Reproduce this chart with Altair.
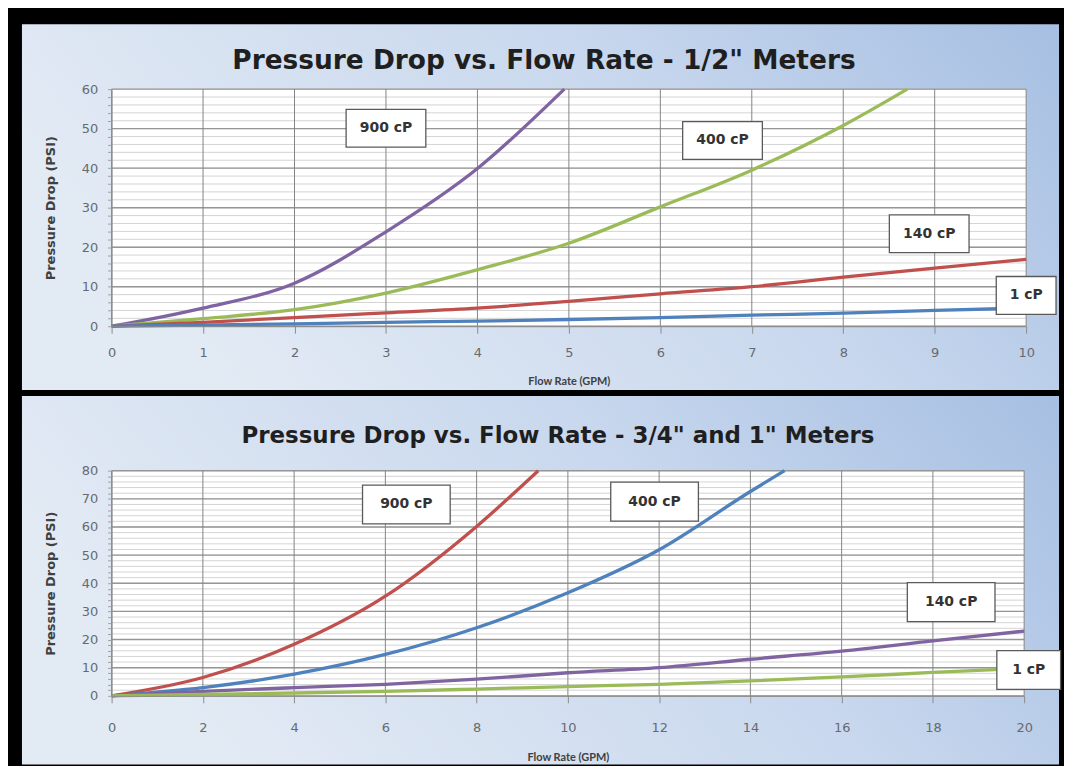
import altair as alt
import pandas as pd

# ---------------- data ----------------
# Top panel: 1/2" meters
top_900_x = [0, 1, 2, 3, 4, 4.95]
top_900_y = [0, 4.6, 10.9, 23.9, 39.9, 60]
top_400_x = [0, 1, 2, 3, 4, 5, 6, 7, 8, 8.7]
top_400_y = [0, 1.9, 4.2, 8.4, 14.3, 21, 30.2, 39.5, 50.8, 60]
top_140_x = [0, 1, 2, 3, 4, 5, 6, 7, 8, 9, 10]
top_140_y = [0, 1.0, 2.2, 3.4, 4.6, 6.3, 8.2, 10, 12.4, 14.7, 16.9]
top_1_x = [0, 1, 2, 3, 4, 5, 6, 7, 8, 9, 10]
top_1_y = [0, 0.3, 0.6, 1.0, 1.3, 1.7, 2.2, 2.8, 3.3, 4.0, 4.6]

# Bottom panel: 3/4" and 1" meters
bot_900_x = [0, 2, 4, 6, 8, 9.35]
bot_900_y = [0, 6.5, 18.3, 35.4, 60.2, 80]
bot_400_x = [0, 2, 4, 6, 8, 10, 12, 14, 14.75]
bot_400_y = [0, 2.9, 7.7, 14.7, 24.2, 36.6, 51.9, 72.6, 80]
bot_140_x = [0, 2, 4, 6, 8, 10, 12, 14, 16, 18, 20]
bot_140_y = [0, 1.6, 2.9, 4.1, 5.9, 8.2, 10, 13, 15.9, 19.5, 23]
bot_1_x = [0, 2, 4, 6, 8, 10, 12, 14, 16, 18, 20]
bot_1_y = [0, 0.5, 1.0, 1.6, 2.4, 3.3, 4.1, 5.3, 6.7, 8.3, 9.8]

series_names = ["900 cP", "400 cP", "140 cP", "1 cP"]
top_colors = ["#8064a2", "#9bbb59", "#c0504d", "#4f81bd"]
bot_colors = ["#c0504d", "#4f81bd", "#8064a2", "#9bbb59"]

top_label_x = [3.0, 6.68, 8.94, 10.0]
top_label_y = [50.1, 47.0, 23.4, 7.8]
bot_label_x = [6.46, 11.9, 18.4, 20.1]
bot_label_y = [68.0, 69.0, 33.3, 9.2]

top_x_ticks = list(range(0, 11, 1))
top_y_major = list(range(0, 61, 10))
top_y_minor = list(range(0, 61, 2))
bot_x_ticks = list(range(0, 21, 2))
bot_y_major = list(range(0, 81, 10))
bot_y_minor = list(range(0, 81, 2))

top_title = 'Pressure Drop  vs. Flow Rate - 1/2" Meters'
bot_title = 'Pressure Drop vs. Flow Rate - 3/4" and 1" Meters'
x_title = "Flow Rate (GPM)"
y_title = "Pressure Drop (PSI)"

WIDE = "DejaVu Sans"
NARROW = "Lato"


def series_df(xs, ys, key):
    rows = []
    for name, xx, yy in zip(series_names, xs, ys):
        for i, (a, b) in enumerate(zip(xx, yy)):
            rows.append({"x": a, "y": b, key: name, "order": i})
    return pd.DataFrame(rows)


def panel(key, xs, ys, colors, lab_x, lab_y, x_ticks, y_major, y_minor,
          xmax, ymax, W, H, title, title_size, title_dx, title_dy, ext,
          lab_pad, title_pad, box_w, box_h, small_w, small_h):
    df = series_df(xs, ys, key)
    labels = pd.DataFrame({"x": lab_x, "y": lab_y, "label": series_names})

    x_enc = alt.X("x:Q", scale=alt.Scale(domain=[0, xmax], nice=False, zero=True),
                  axis=alt.Axis(values=x_ticks, grid=False, title=x_title,
                                domainColor="#8c8c8c", tickColor="#8c8c8c",
                                tickSize=7, labelColor="#666a70", labelFont=WIDE,
                                labelFontSize=13, labelPadding=lab_pad,
                                labelOverlap=False, labelFlush=False,
                                titleFont=NARROW, titleFontSize=11,
                                titleFontWeight="bold", titleColor="#404040",
                                titlePadding=title_pad, zindex=1))
    y_enc = alt.Y("y:Q", scale=alt.Scale(domain=[0, ymax], nice=False, zero=True),
                  axis=alt.Axis(values=y_minor, grid=False, title=y_title,
                                labelExpr="datum.value % 10 === 0 ? datum.label : ''",
                                domainColor="#8c8c8c", tickColor="#a0a0a0",
                                tickSize=4, labelColor="#666a70", labelFont=WIDE,
                                labelFontSize=13, labelPadding=10,
                                labelOverlap=False, labelFlush=False,
                                titleFont=WIDE, titleFontSize=13,
                                titleFontWeight="bold", titleColor="#404040",
                                titlePadding=24, zindex=1))

    one = pd.DataFrame({"t": [title]})

    left, right, top, bottom = ext
    gradient = {
        "gradient": "linear", "x1": 0, "y1": 0.3, "x2": 1, "y2": 0,
        "stops": [
            {"offset": 0, "color": "#e2eaf4"},
            {"offset": 0.55, "color": "#c9d8ee"},
            {"offset": 1, "color": "#a6bfe2"},
        ],
    }
    bg = alt.Chart(one).mark_rect(fill=gradient).encode(
        x=alt.value(-left), x2=alt.value(W + right),
        y=alt.value(-top), y2=alt.value(H + bottom))
    plot_bg = alt.Chart(one).mark_rect(fill="white").encode(
        x=alt.value(0), x2=alt.value(W), y=alt.value(0), y2=alt.value(H))

    minor = alt.Chart(pd.DataFrame({"y": y_minor})).mark_rule(
        color="#d4d4d4", strokeWidth=1).encode(y=y_enc)
    major = alt.Chart(pd.DataFrame({"y": y_major})).mark_rule(
        color="#969696", strokeWidth=1.4).encode(y=y_enc)
    vgrid = alt.Chart(pd.DataFrame({"x": x_ticks})).mark_rule(
        color="#858585", strokeWidth=1).encode(x=x_enc)

    lines = alt.Chart(df).mark_line(strokeWidth=3.3, interpolate="monotone").encode(
        x=x_enc, y=y_enc,
        color=alt.Color(f"{key}:N", scale=alt.Scale(domain=series_names, range=colors),
                        legend=None),
        order="order:Q",
        detail=f"{key}:N")

    wide_shape = "M-1,-{h}L1,-{h}L1,{h}L-1,{h}Z".format(h=round(box_h / box_w, 3))
    small_shape = "M-1,-{h}L1,-{h}L1,{h}L-1,{h}Z".format(h=round(small_h / small_w, 3))

    boxes_wide = alt.Chart(labels).transform_filter("datum.label != '1 cP'").mark_point(
        shape=wide_shape, size=box_w * box_w, filled=True, fill="white",
        stroke="#5a5a5a", strokeWidth=1.3, opacity=1).encode(x=x_enc, y=y_enc)
    boxes_small = alt.Chart(labels).transform_filter("datum.label == '1 cP'").mark_point(
        shape=small_shape, size=small_w * small_w, filled=True, fill="white",
        stroke="#5a5a5a", strokeWidth=1.3, opacity=1).encode(x=x_enc, y=y_enc)
    texts = alt.Chart(labels).mark_text(
        font=WIDE, fontSize=14, fontWeight="bold", color="#333333",
        align="center", baseline="middle").encode(x=x_enc, y=y_enc, text="label:N")

    title_mark = alt.Chart(one).mark_text(
        font=WIDE, fontSize=title_size, fontWeight="bold", color="#1f1f1f",
        align="center", baseline="middle").encode(
        x=alt.value(W / 2 + title_dx), y=alt.value(title_dy), text="t:N")

    return alt.layer(bg, plot_bg, minor, major, vgrid, lines,
                     boxes_wide, boxes_small, texts, title_mark).properties(
        width=W, height=H)


top_chart = panel("series_top",
                  [top_900_x, top_400_x, top_140_x, top_1_x],
                  [top_900_y, top_400_y, top_140_y, top_1_y],
                  top_colors, top_label_x, top_label_y,
                  top_x_ticks, top_y_major, top_y_minor,
                  10, 60, 918, 238, top_title, 26.5, -25, -28,
                  (90, 33, 65, 64), 13, 16, 80, 38, 60, 38)

bot_chart = panel("series_bot",
                  [bot_900_x, bot_400_x, bot_140_x, bot_1_x],
                  [bot_900_y, bot_400_y, bot_140_y, bot_1_y],
                  bot_colors, bot_label_x, bot_label_y,
                  bot_x_ticks, bot_y_major, bot_y_minor,
                  20, 80, 916, 226, bot_title, 23, -10, -35,
                  (90, 35, 75, 69), 19, 17, 88, 39, 64, 39)

chart = alt.vconcat(top_chart, bot_chart, spacing=6).resolve_scale(
    color="independent"
).properties(
    background="black",
    padding={"left": 14, "top": 15, "right": 0, "bottom": 0},
).configure_view(stroke=None)

chart.save("out.html", embed_options={"renderer": "svg", "actions": False})
